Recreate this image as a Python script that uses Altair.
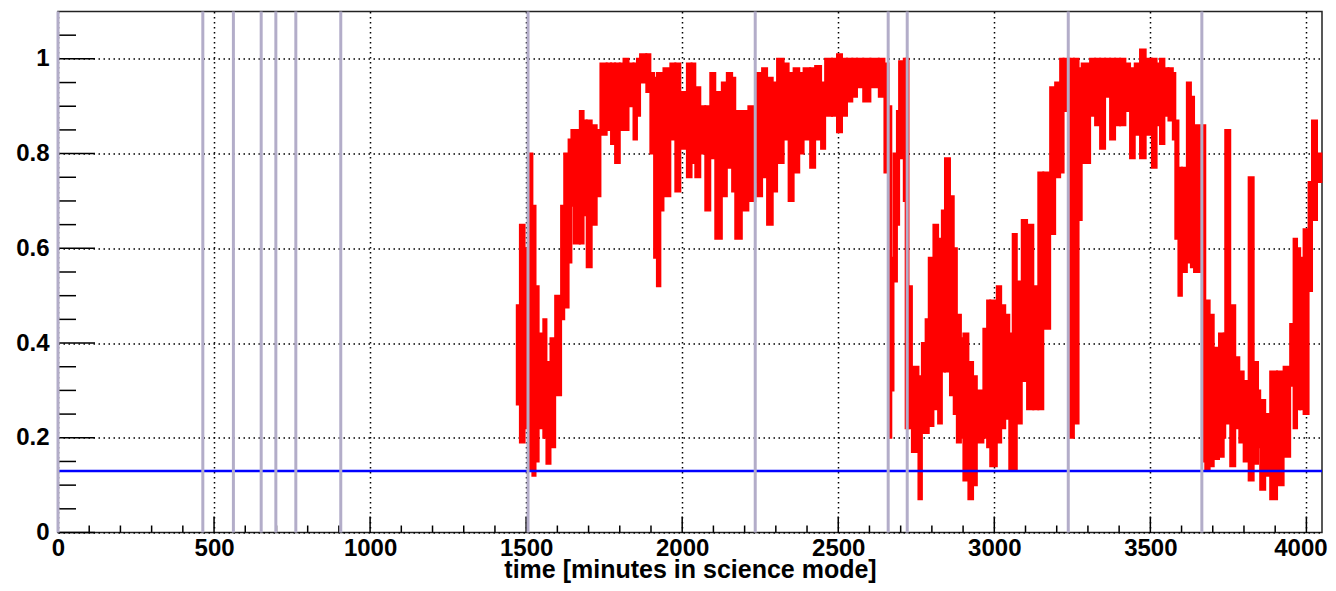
import altair as alt
import pandas as pd

# ---- red series: per-segment min/max envelope ----
seg_start = [1470, 1480, 1495, 1508, 1520, 1530, 1540, 1555, 1565, 1578,
             1593, 1612, 1622, 1636, 1645, 1652, 1672, 1684, 1694, 1710,
             1726, 1738, 1758, 1772, 1785, 1800, 1812, 1828, 1844, 1855,
             1865, 1885, 1898, 1910, 1919, 1930, 1940, 1962, 1978, 1994,
             2015, 2030, 2042, 2058, 2074, 2090, 2106, 2127, 2143, 2160,
             2170, 2191, 2212, 2234, 2240, 2256, 2272, 2290, 2304, 2325,
             2341, 2357, 2375, 2389, 2410, 2426, 2445, 2458, 2480, 2496,
             2512, 2528, 2545, 2560, 2580, 2603, 2630, 2648, 2661, 2670,
             2677, 2688, 2695, 2710, 2716, 2725, 2736, 2757, 2768, 2780,
             2790, 2805, 2820, 2832, 2842, 2858, 2870, 2880, 2893, 2901,
             2917, 2932, 2944, 2965, 2977, 2987, 3008, 3022, 3035, 3048,
             3059, 3072, 3088, 3105, 3125, 3141, 3157, 3179, 3195, 3211,
             3222, 3241, 3255, 3270, 3280, 3307, 3323, 3339, 3355, 3371,
             3387, 3403, 3420, 3435, 3450, 3467, 3485, 3505, 3520, 3531,
             3545, 3558, 3572, 3580, 3590, 3601, 3617, 3630, 3640, 3660,
             3671, 3676, 3690, 3703, 3720, 3735, 3740, 3756, 3772, 3785,
             3799, 3815, 3831, 3845, 3852, 3868, 3884, 3906, 3927, 3948,
             3959, 3970, 3980, 3991, 4007, 4018, 4034]
seg_end = 4048
seg_lo = [0.27, 0.19, 0.22, 0.13, 0.12, 0.15, 0.22, 0.20, 0.145, 0.18,
          0.29, 0.45, 0.475, 0.57, 0.69, 0.61, 0.61, 0.67, 0.56, 0.65,
          0.71, 0.84, 0.85, 0.82, 0.78, 0.85, 0.85, 0.90, 0.83, 0.88,
          0.95, 0.93, 0.80, 0.58, 0.52, 0.68, 0.71, 0.83, 0.72, 0.81,
          0.75, 0.78, 0.75, 0.80, 0.68, 0.79, 0.62, 0.71, 0.77, 0.72,
          0.62, 0.68, 0.70, 0.74, 0.71, 0.75, 0.65, 0.72, 0.78, 0.83,
          0.70, 0.76, 0.80, 0.83, 0.77, 0.83, 0.81, 0.88, 0.88, 0.845,
          0.88, 0.91, 0.92, 0.94, 0.91, 0.94, 0.92, 0.76, 0.20, 0.30,
          0.53, 0.65, 0.79, 0.70, 0.22, 0.22, 0.17, 0.07, 0.21, 0.21,
          0.225, 0.26, 0.23, 0.34, 0.34, 0.29, 0.25, 0.19, 0.20, 0.11,
          0.07, 0.10, 0.19, 0.20, 0.18, 0.14, 0.19, 0.22, 0.24, 0.13,
          0.13, 0.23, 0.32, 0.26, 0.26, 0.26, 0.43, 0.63, 0.75, 0.76,
          0.89, 0.20, 0.23, 0.66, 0.78, 0.88, 0.86, 0.81, 0.92, 0.83,
          0.86, 0.86, 0.89, 0.79, 0.84, 0.79, 0.84, 0.77, 0.86, 0.82,
          0.88, 0.87, 0.83, 0.62, 0.50, 0.55, 0.57, 0.56, 0.55, 0.55,
          0.15, 0.13, 0.14, 0.155, 0.16, 0.20, 0.23, 0.14, 0.22, 0.19,
          0.15, 0.11, 0.145, 0.18, 0.09, 0.12, 0.07, 0.10, 0.16, 0.31,
          0.22, 0.26, 0.26, 0.25, 0.51, 0.66, 0.74]
seg_hi = [0.48, 0.65, 0.60, 0.80, 0.69, 0.52, 0.42, 0.45, 0.36, 0.41,
          0.50, 0.69, 0.80, 0.83, 0.85, 0.85, 0.89, 0.87, 0.87, 0.86,
          0.85, 0.99, 0.99, 0.99, 0.99, 0.99, 1.00, 0.99, 0.99, 1.00,
          1.01, 1.01, 0.97, 0.96, 0.97, 0.97, 0.98, 0.99, 0.99, 0.93,
          0.99, 0.99, 0.94, 0.90, 0.90, 0.97, 0.93, 0.95, 0.97, 0.96,
          0.89, 0.89, 0.90, 0.96, 0.97, 0.98, 0.96, 0.95, 1.00, 0.99,
          0.97, 0.98, 0.97, 0.98, 0.98, 0.985, 0.95, 1.00, 1.00, 1.01,
          1.00, 1.00, 1.00, 1.00, 1.00, 1.00, 1.00, 0.99, 0.90, 0.58,
          0.80, 0.89, 0.995, 1.00, 1.00, 0.52, 0.35, 0.33, 0.40, 0.45,
          0.58, 0.65, 0.62, 0.68, 0.79, 0.71, 0.60, 0.46, 0.41, 0.42,
          0.36, 0.33, 0.30, 0.43, 0.49, 0.49, 0.52, 0.48, 0.46, 0.42,
          0.63, 0.53, 0.66, 0.65, 0.52, 0.76, 0.76, 0.94, 0.95, 1.00,
          1.00, 1.00, 1.00, 0.98, 0.99, 1.00, 1.00, 1.00, 1.00, 1.00,
          1.00, 1.00, 0.99, 0.98, 0.99, 1.02, 1.00, 1.00, 0.99, 1.00,
          0.98, 0.98, 0.97, 0.87, 0.77, 0.77, 0.95, 0.92, 0.86, 0.78,
          0.86, 0.49, 0.46, 0.39, 0.42, 0.42, 0.85, 0.48, 0.37, 0.34,
          0.32, 0.75, 0.36, 0.30, 0.28, 0.25, 0.34, 0.34, 0.35, 0.44,
          0.62, 0.60, 0.58, 0.64, 0.74, 0.87, 0.80]

# ---- markers ----
gray_lines = [0, 464, 562, 651, 698, 762, 906, 1506, 2234, 2660, 2721, 3237, 3665]
threshold = [0.13]

# ---- axes ----
x_major = [0, 500, 1000, 1500, 2000, 2500, 3000, 3500, 4000]
x_minor = [v for v in range(100, 4050, 100) if v % 500 != 0]
y_major = [0, 0.2, 0.4, 0.6, 0.8, 1.0]
y_minor = [0.05, 0.1, 0.15, 0.25, 0.3, 0.35, 0.45, 0.5, 0.55, 0.65, 0.7,
           0.75, 0.85, 0.9, 0.95, 1.05]

W, H = 1264, 521
FONT = "Liberation Sans"

xs = alt.Scale(domain=[0, 4050], nice=False, zero=False)
ys = alt.Scale(domain=[0, 1.1], nice=False, zero=False)

seg_df = pd.DataFrame({
    "t0": seg_start,
    "t1": seg_start[1:] + [seg_end],
    "lo": seg_lo,
    "hi": seg_hi,
})

base_x = alt.X("t0:Q", scale=xs,
               axis=alt.Axis(values=x_major, format="d", grid=True,
                             gridDash=[1.5, 3.5], gridColor="black", gridOpacity=1,
                             gridWidth=1.5, tickSize=0, domain=False,
                             labelFont=FONT, labelFontWeight="bold",
                             labelFontSize=24, labelColor="black",
                             labelPadding=4, labelFlush=False,
                             labelOverlap=False,
                             labelOffset={"condition": {"test": "datum.value == 4000",
                                                        "value": -6},
                                          "value": 0},
                             title="time [minutes in science mode]",
                             titleFont=FONT, titleFontWeight="bold",
                             titleFontSize=25, titleColor="black",
                             titleBaseline="alphabetic", titleY=45))
base_y = alt.Y("lo:Q", scale=ys,
               axis=alt.Axis(values=y_major, format=".1~f", grid=True,
                             gridDash=[1.5, 3.5], gridColor="black", gridOpacity=1,
                             gridWidth=1.5, tickSize=0, domain=False,
                             labelFont=FONT, labelFontWeight="bold",
                             labelFontSize=24, labelColor="black",
                             labelPadding=9, labelFlush=False,
                             labelOverlap=False, title=None))

red = alt.Chart(seg_df).mark_rect(color="#ff0000", stroke="#ff0000",
                                  strokeWidth=2).encode(
    x=base_x, x2="t1:Q", y=base_y, y2="hi:Q")

blue = alt.Chart(pd.DataFrame({"v": threshold})).mark_rule(
    color="#0000ff", strokeWidth=2.5).encode(
    y=alt.Y("v:Q", scale=ys), x=alt.value(0), x2=alt.value(W))

gray = alt.Chart(pd.DataFrame({"t": gray_lines})).mark_rule(
    color="#b3adc9", strokeWidth=3).encode(
    x=alt.X("t:Q", scale=xs), y=alt.value(0), y2=alt.value(H))

xt_major = alt.Chart(pd.DataFrame({"t": x_major})).mark_rule(
    color="black", strokeWidth=1.5).encode(
    x=alt.X("t:Q", scale=xs), y=alt.value(H), y2=alt.value(H - 16))
xt_minor = alt.Chart(pd.DataFrame({"t": x_minor})).mark_rule(
    color="black", strokeWidth=1.5).encode(
    x=alt.X("t:Q", scale=xs), y=alt.value(H), y2=alt.value(H - 7))
yt_major = alt.Chart(pd.DataFrame({"v": y_major})).mark_rule(
    color="black", strokeWidth=1.5).encode(
    y=alt.Y("v:Q", scale=ys), x=alt.value(0), x2=alt.value(37))
yt_minor = alt.Chart(pd.DataFrame({"v": y_minor})).mark_rule(
    color="black", strokeWidth=1.5).encode(
    y=alt.Y("v:Q", scale=ys), x=alt.value(0), x2=alt.value(18))

chart = alt.layer(red, blue, xt_major, xt_minor, yt_major, yt_minor, gray).properties(
    width=W, height=H,
    autosize=alt.AutoSizeParams(type="none"),
    padding={"left": 50, "top": 3.5, "right": 6, "bottom": 50},
    background="white",
).configure_view(stroke="#222222", strokeWidth=1.5)

chart.save("out.html", embed_options={"renderer": "svg", "actions": False})
